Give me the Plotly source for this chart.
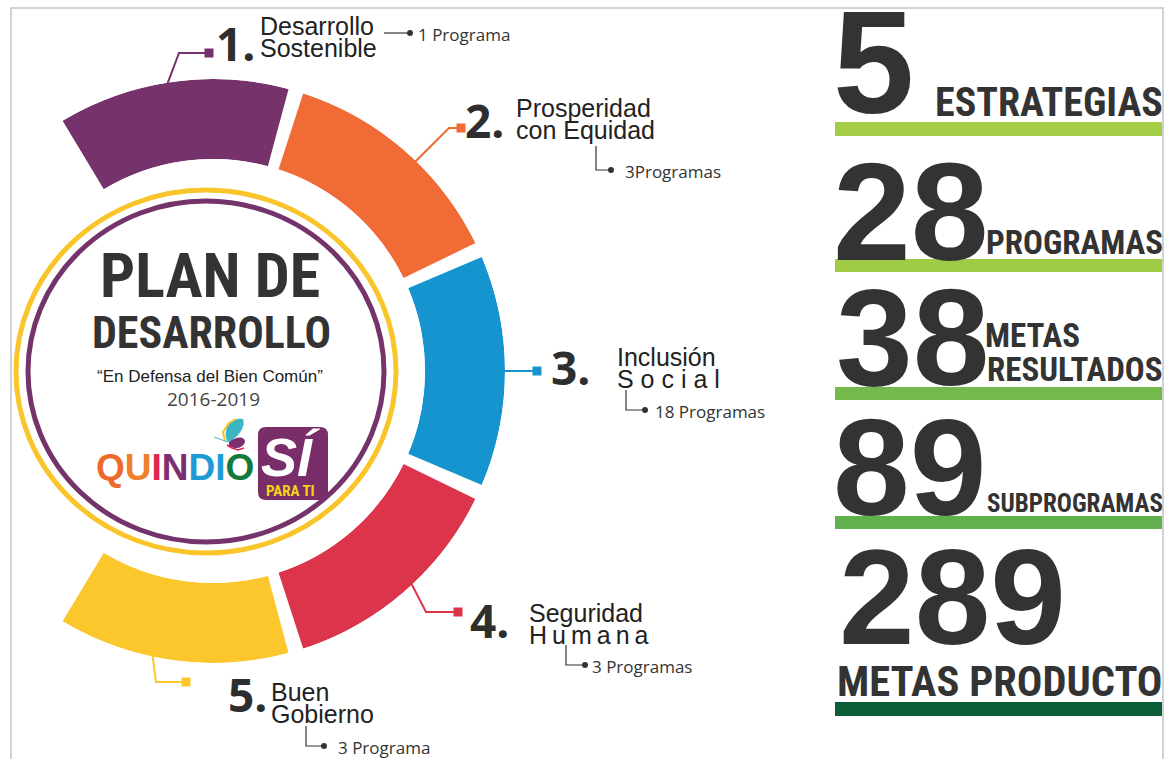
import math
import plotly.graph_objects as go

# ---------------- data ----------------
strategy_numbers = ["1.", "2.", "3.", "4.", "5."]
strategy_line1 = ["Desarrollo", "Prosperidad", "Inclusión", "Seguridad", "Buen"]
strategy_line2 = ["Sostenible", "con Equidad", "S o c i a l", "H\u2009u\u2009m\u2009a\u2009n\u2009a", "Gobierno"]
strategy_programs = ["1 Programa", "3Programas", "18 Programas", "3 Programas", "3 Programa"]
segment_share = [1, 1, 1, 1, 1]          # five equal strategy segments
segment_colors = ["#76336B", "#F06B35", "#1594D0", "#DC344B", "#FCC62D"]

total_values = ["5", "28", "38", "89", "289"]
total_labels = ["ESTRATEGIAS", "PROGRAMAS", "METAS RESULTADOS", "SUBPROGRAMAS", "METAS PRODUCTO"]
total_bar_colors = ["#A3CD46", "#A0CB46", "#74B94B", "#62AF4D", "#0A5F38"]

# ---------------- geometry helpers ----------------
W, H = 1166, 759
def px(x): return x / W
def py(y): return 1 - y / H

CX, CY, R_OUT, R_IN = 213, 371, 292, 212
STEP = 49.0      # degrees per share unit
GAP = 3.0
START = 122.5

thetas, widths = [], []
acc = 0
for s in segment_share:
    thetas.append(START - STEP * (acc + s / 2))
    widths.append(STEP * s - GAP)
    acc += s

DARK = "#333333"
NARROW = "Noto Sans ExtraCondensed, Noto Sans Condensed, Roboto Condensed, Liberation Sans Narrow, DejaVu Sans Condensed, sans-serif"
SANS = "Liberation Sans, Arial, sans-serif"
OPEN = "Open Sans, sans-serif"

fig = go.Figure()
fig.add_trace(go.Barpolar(
    r=segment_share, theta=thetas, width=widths,
    marker=dict(color=segment_colors, line=dict(width=0)),
    hoverinfo="skip", showlegend=False,
))

sector = [-125, 125]
x0b = math.cos(math.radians(235))
fig.update_layout(
    width=W, height=H, margin=dict(l=0, r=0, t=0, b=0),
    paper_bgcolor="white", plot_bgcolor="white", showlegend=False,
    polar=dict(
        domain=dict(x=[px(CX + R_OUT * x0b), px(CX + R_OUT)],
                    y=[py(CY + R_OUT), py(CY - R_OUT)]),
        sector=sector, hole=R_IN / R_OUT, bgcolor="rgba(0,0,0,0)",
        radialaxis=dict(visible=False, range=[0, 1]),
        angularaxis=dict(visible=False, rotation=0, direction="counterclockwise"),
    ),
)

shapes = []
annotations = []

def P(cmds):
    out = []
    for c in cmds:
        if isinstance(c, str):
            out.append(c)
        else:
            out.append(f"{px(c[0]):.5f},{py(c[1]):.5f}")
    return " ".join(out)

def line_path(points, color, width):
    cmds = ["M", points[0]]
    for p in points[1:]:
        cmds += ["L", p]
    shapes.append(dict(type="path", xref="paper", yref="paper", path=P(cmds),
                       line=dict(color=color, width=width)))

def rect(x0, y0, x1, y1, color):
    shapes.append(dict(type="rect", xref="paper", yref="paper",
                       x0=px(x0), x1=px(x1), y0=py(y1), y1=py(y0),
                       fillcolor=color, line=dict(width=0)))

def circle(x0, y0, x1, y1, color, width=0, fill=None):
    shapes.append(dict(type="circle", xref="paper", yref="paper",
                       x0=px(x0), x1=px(x1), y0=py(y1), y1=py(y0),
                       fillcolor=fill if fill else "rgba(0,0,0,0)",
                       line=dict(color=color, width=width)))

def text(x, y, s, size, color=DARK, family=SANS, xanchor="left", yanchor="middle"):
    annotations.append(dict(x=px(x), y=py(y), xref="paper", yref="paper", text=s,
                            showarrow=False, xanchor=xanchor, yanchor=yanchor,
                            font=dict(size=size, color=color, family=family),
                            borderpad=0))

# frame
line_path([(11, 759), (11, 8), (1163, 8), (1163, 759)], "#C4C4C4", 1.5)

# inner circles
circle(16, 190, 396, 553, "#F9C52A", 5)
circle(28, 201, 384, 542, "#74336A", 5)

# ring connectors
anchor_angles = [99, 46, 0, -47, -102]
elbows = [(179, 53), (449, 128), None, (426, 612), (156, 682)]
squares = [(209, 53), (461, 128), (537, 371), (458, 612), (186, 682)]
for i in range(5):
    a = math.radians(anchor_angles[i])
    start = (CX + (R_OUT - 1) * math.cos(a), CY - (R_OUT - 1) * math.sin(a))
    pts = [start] + ([elbows[i]] if elbows[i] else []) + [squares[i]]
    line_path(pts, segment_colors[i], 2)
    sx, sy = squares[i]
    rect(sx - 4.5, sy - 4.5, sx + 4.5, sy + 4.5, segment_colors[i])

# strategy texts
num_pos = [(215, 43), (464, 120), (550, 367), (469, 620), (227, 694)]
l1_pos = [(259, 26), (515, 108), (616, 357), (528, 613), (270, 692)]
for i in range(5):
    text(num_pos[i][0], num_pos[i][1], f"<b>{strategy_numbers[i]}</b>", 46, "#2E2E2E", OPEN)
    text(l1_pos[i][0], l1_pos[i][1], strategy_line1[i], 25, "#222222", SANS)
    text(l1_pos[i][0], l1_pos[i][1] + 22, strategy_line2[i], 25, "#222222", SANS)

# program sub-connectors
sub_lines = [
    [(384, 33), (410, 33)],
    [(596, 146), (596, 170), (611, 170)],
    [(626, 390), (626, 410), (645, 410)],
    [(566, 645), (566, 665), (585, 665)],
    [(306, 726), (306, 746), (324, 746)],
]
sub_text_x = [417, 624, 654, 591, 337]
for i, pts in enumerate(sub_lines):
    line_path(pts, DARK, 1.2)
    ex, ey = pts[-1]
    circle(ex - 3, ey - 3, ex + 3, ey + 3, DARK, 0, DARK)
    text(sub_text_x[i], ey + 1, strategy_programs[i], 17, DARK, OPEN)

# centre title
text(210, 275, "<b>PLAN DE</b>", 62, "#333333", NARROW, xanchor="center")
text(211, 333, "<b>DESARROLLO</b>", 44, "#333333", NARROW, xanchor="center")
text(210, 377, "“En Defensa del Bien Común”", 17, "#222222", SANS, xanchor="center")
text(213, 399, "2016-2019", 19, "#444444", OPEN, xanchor="center")

# logo
logo_letters = ["Q", "U", "I", "N", "D", "I", "O"]
logo_colors = ["#EE6A2C", "#F07F2A", "#E3244F", "#7E2D6E", "#1E9AD6", "#1E9AD6", "#137A3A"]
logo = "".join(f"<span style='color:{c}'>{l}</span>" for l, c in zip(logo_letters, logo_colors))
text(175, 467, f"<b>{logo}</b>", 37, "#333", SANS, xanchor="center")

# butterfly (decoration)
shapes.append(dict(type="path", xref="paper", yref="paper",
                   path=P(["M", (227, 441), "C", (222, 428), (232, 417), (243, 419),
                           "C", (246, 427), (238, 437), (229, 442), "Z"]),
                   fillcolor="#3DB5C3", line=dict(width=0)))
shapes.append(dict(type="path", xref="paper", yref="paper",
                   path=P(["M", (229, 442), "C", (236, 436), (245, 436), (245, 442),
                           "C", (243, 448), (235, 450), (229, 446), "Z"]),
                   fillcolor="#7B2F6E", line=dict(width=0)))
line_path([(225, 441), (223, 432), (229, 423), (236, 419)], "#F6C22B", 2)
line_path([(227, 445), (232, 448), (238, 450), (244, 448)], "#E3244F", 1.5)
line_path([(228, 442), (214, 437)], "#3DB5C3", 1)

# SÍ box
bx0, by0, bx1, by1, rr = 258, 427, 328, 500, 8
shapes.append(dict(type="path", xref="paper", yref="paper",
                   path=P(["M", (bx0 + rr, by0), "L", (bx1 - rr, by0), "Q", (bx1, by0), (bx1, by0 + rr),
                           "L", (bx1, by1 - rr), "Q", (bx1, by1), (bx1 - rr, by1),
                           "L", (bx0 + rr, by1), "Q", (bx0, by1), (bx0, by1 - rr),
                           "L", (bx0, by0 + rr), "Q", (bx0, by0), (bx0 + rr, by0), "Z"]),
                   fillcolor="#7A2E69", line=dict(width=0)))
text(290, 457, "<b><i>SÍ</i></b>", 54, "white", SANS, xanchor="center")
text(290, 491, "<b>PARA TI</b>", 15, "#F7D21A", NARROW, xanchor="center")

# right-hand totals
num_style = [(832, 62, 146), (832, 211, 140), (835, 337, 138), (832, 467, 138), (838, 597, 136)]
for i in range(5):
    x, y, s = num_style[i]
    text(x, y, f"<b>{total_values[i]}</b>", s, "#333333", SANS)

bars_y = [(122, 136), (259, 272), (387, 400), (516, 529), (702, 716)]
for i, (y0, y1) in enumerate(bars_y):
    rect(835, y0, 1162, y1, total_bar_colors[i])

text(1164, 102, f"<b>{total_labels[0]}</b>", 40, "#333333", NARROW, xanchor="right")
text(1164, 243, f"<b>{total_labels[1]}</b>", 33, "#333333", NARROW, xanchor="right")
m1, m2 = total_labels[2].split(" ")
text(984, 335, f"<b>{m1}</b>", 33, "#333333", NARROW)
text(1164, 369, f"<b>{m2}</b>", 33, "#333333", NARROW, xanchor="right")
text(1164, 503, f"<b>{total_labels[3]}</b>", 25, "#333333", NARROW, xanchor="right")
text(1000, 681, f"<b>{total_labels[4]}</b>", 42.5, "#333333", NARROW, xanchor="center")

fig.update_layout(shapes=shapes, annotations=annotations)
fig.write_html("out.html", config={"displayModeBar": False},
               post_script="document.body.style.margin='0px';")
